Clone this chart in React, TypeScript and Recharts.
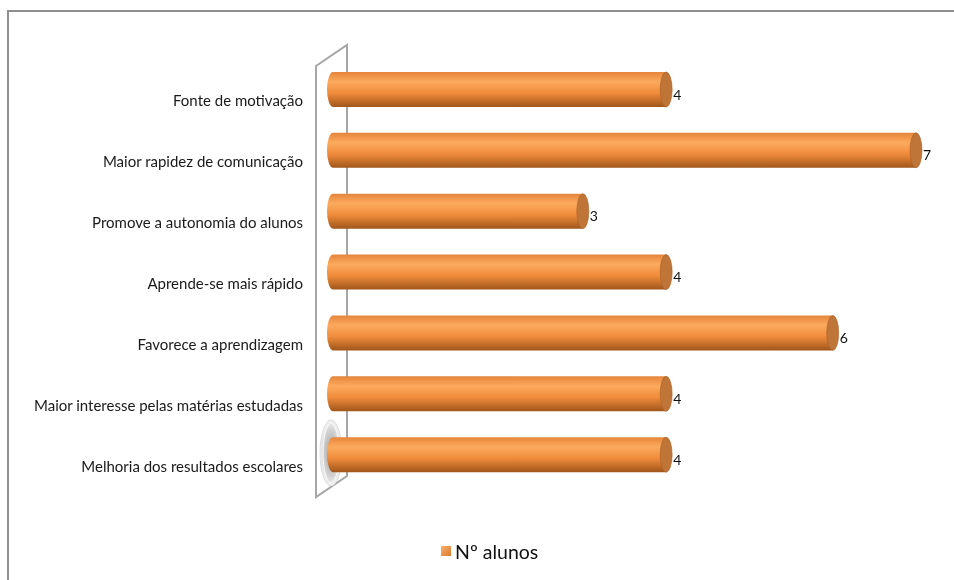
import React from 'react';
import { BarChart, Bar, XAxis, YAxis, LabelList, Legend, Customized } from 'recharts';

const categories = [
  'Fonte de motivação',
  'Maior rapidez de comunicação',
  'Promove a autonomia do alunos',
  'Aprende-se mais rápido',
  'Favorece a aprendizagem',
  'Maior interesse pelas matérias estudadas',
  'Melhoria dos resultados escolares',
];
const alunos = [4, 7, 3, 4, 6, 4, 4];
const seriesName = 'Nº alunos';

const data = categories.map((c, i) => ({ name: c, value: alunos[i] }));

const W = 946;
const H = 564;
const M = { top: 51, right: 38, left: 0, bottom: 67 };
const YW = 325;
const FONT = 'Lato, "Open Sans", sans-serif';

const Wall = () => {
  const pl = M.left + YW;
  const pt = M.top;
  const pb = H - M.bottom - 20;
  const fx = pl - 17;
  const bx = pl + 14;
  return (
    <g>
      <defs>
        <linearGradient id="cyl" x1="0" y1="0" x2="0" y2="1">
          <stop offset="0%" stopColor="#E5853A" />
          <stop offset="28%" stopColor="#FCAA5E" />
          <stop offset="60%" stopColor="#F08C3C" />
          <stop offset="100%" stopColor="#A0561B" />
        </linearGradient>
        <radialGradient id="shad" cx="0.5" cy="0.5" r="0.5">
          <stop offset="0%" stopColor="#9a9a9a" />
          <stop offset="70%" stopColor="#d2d2d2" />
          <stop offset="100%" stopColor="#f4f4f4" />
        </radialGradient>
      </defs>
      <polygon
        points={`${fx},${pt + 7} ${bx},${pt - 14} ${bx},${pb - 9} ${fx},${pb + 12}`}
        fill="#fff"
        stroke="#a6a6a6"
        strokeWidth={2}
      />
      <ellipse cx={pl - 2} cy={pb - 32} rx={11} ry={33} fill="url(#shad)" stroke="#d6d6d6" strokeWidth={0.8} />
      <ellipse cx={pl - 2} cy={pb - 32} rx={8} ry={30} fill="none" stroke="#fff" strokeWidth={0.8} />
    </g>
  );
};

const Cylinder = (props: any) => {
  const { x, y, width, height } = props;
  const rx = 6;
  const ry = height / 2;
  const cy = y + ry;
  const d = `M ${x} ${y} L ${x + width} ${y} L ${x + width} ${y + height} L ${x} ${y + height} A ${rx} ${ry} 0 0 1 ${x} ${y} Z`;
  return (
    <g>
      <path d={d} fill="url(#cyl)" />
      <ellipse cx={x + width} cy={cy} rx={rx} ry={ry} fill="#BF7538" stroke="#A9612A" strokeWidth={0.6} />
    </g>
  );
};

const CatTick = (props: any) => {
  const { x, y, payload } = props;
  return (
    <text x={x} y={y} dy={17} textAnchor="end" fill="#1a1a1a" fontSize={15} fontFamily={FONT}>
      {payload.value}
    </text>
  );
};

const ValueLabel = (props: any) => {
  const { x, y, width, height, value } = props;
  return (
    <text x={x + width + 7} y={y + height / 2} dy={10} fill="#111" fontSize={14} fontFamily={FONT}>
      {value}
    </text>
  );
};

const LegendContent = () => (
  <div style={{ display: 'flex', alignItems: 'center', fontFamily: FONT, fontSize: 19.5, color: '#111', height: 20 }}>
    <span
      style={{
        display: 'inline-block',
        width: 10,
        height: 10,
        background: 'linear-gradient(135deg, #FBB26B, #D9782E)',
        marginRight: 4,
      }}
    />
    <span>{seriesName}</span>
  </div>
);

export default function App() {
  return (
    <div style={{ position: 'relative', width: W, height: H }}>
      <div
        style={{
          position: 'fixed',
          left: 7,
          top: 10,
          width: 980,
          height: 600,
          borderTop: '2px solid #8f8f8f',
          borderLeft: '2px solid #8f8f8f',
          pointerEvents: 'none',
        }}
      />
      <BarChart width={W} height={H} data={data} layout="vertical" margin={M} barSize={35}>
        <Customized component={Wall} />
        <XAxis type="number" domain={[0, 7]} hide />
        <YAxis
          type="category"
          dataKey="name"
          width={YW}
          axisLine={false}
          tickLine={false}
          tickSize={0}
          tickMargin={30}
          tick={<CatTick />}
          interval={0}
        />
        <Bar dataKey="value" name={seriesName} shape={<Cylinder />} isAnimationActive={false}>
          <LabelList dataKey="value" content={<ValueLabel />} />
        </Bar>
        <Legend
          verticalAlign="bottom"
          content={<LegendContent />}
          wrapperStyle={{ top: 533, left: 433, bottom: 'auto', width: 140, height: 20 }}
        />
      </BarChart>
    </div>
  );
}
